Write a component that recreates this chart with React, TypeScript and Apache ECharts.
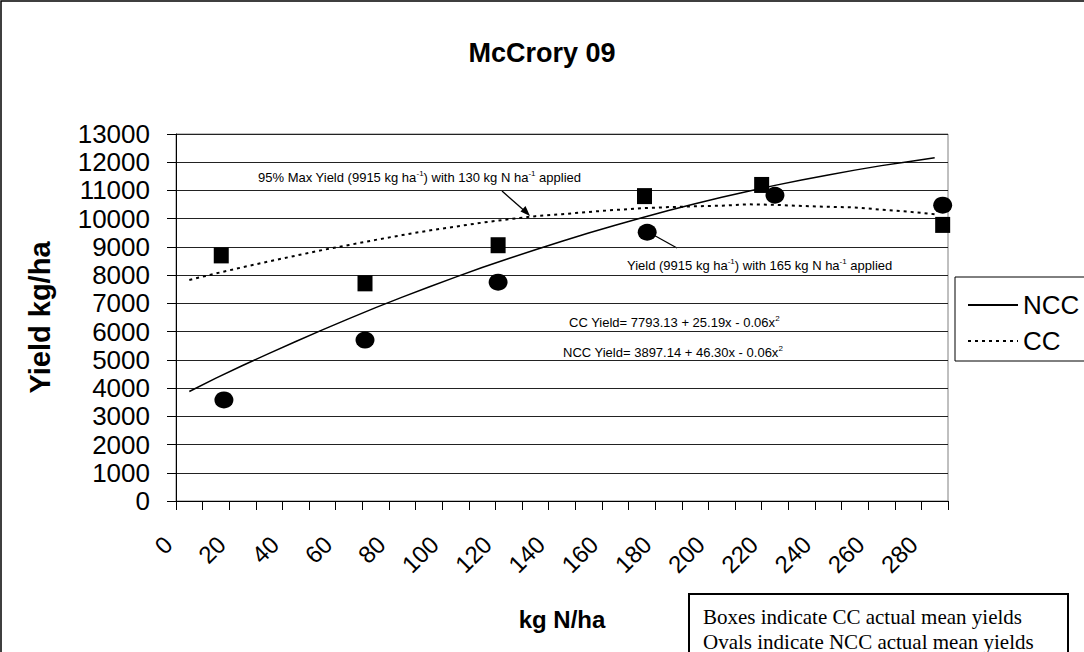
import React, { useEffect, useRef } from 'react';
import * as echarts from 'echarts';

// N rates (kg N/ha) used as categories of the fitted curves
const nRates = ['0','10','20','30','40','50','60','70','80','90','100','110','120','130','140','150','160','170','180','190','200','210','220','230','240','250','260','270','280'];
// Fitted curve values (kg/ha)
const nccFit = [3880, 4350, 4800, 5230, 5650, 6060, 6460, 6850, 7220, 7580, 7930, 8270, 8590, 8900, 9200, 9490, 9770, 10030, 10290, 10530, 10760, 10970, 11180, 11370, 11550, 11720, 11880, 12020, 12160];
const ccFit = [7830, 8060, 8280, 8490, 8690, 8890, 9070, 9250, 9420, 9580, 9720, 9860, 9980, 10090, 10160, 10240, 10310, 10370, 10410, 10440, 10460, 10510, 10490, 10450, 10420, 10400, 10320, 10250, 10160];
// Actual mean yields (boxes = CC, ovals = NCC)
const ccBoxN = [12, 66, 116, 171, 215, 283];
const ccBoxYield = [8700, 7710, 9060, 10800, 11195, 9780];
const nccOvalN = [13, 66, 116, 172, 220, 283];
const nccOvalYield = [3580, 5700, 7750, 9520, 10830, 10480];

const SANS = '"Liberation Sans", Arial, sans-serif';
const SERIF = '"Liberation Serif", "Times New Roman", serif';

export default function App() {
  const ref = useRef<HTMLDivElement>(null);
  useEffect(() => {
    if (!ref.current) return;
    const chart = echarts.init(ref.current, undefined, { renderer: 'svg' });
    const supRich = { s: { fontSize: 8, lineHeight: 8, verticalAlign: 'top', fontFamily: SANS, fill: '#000', color: '#000' } };
    chart.setOption({
      animation: false,
      backgroundColor: '#fff',
      title: {
        text: 'McCrory 09',
        left: 'center',
        top: 34,
        textStyle: { fontFamily: SANS, fontSize: 27, fontWeight: 'bold', color: '#000' },
      },
      grid: { left: 176, right: 136, top: 134, bottom: 151, show: true, borderColor: '#808080', borderWidth: 1, backgroundColor: 'transparent' },
      legend: {
        data: ['NCC', 'CC'],
        orient: 'vertical',
        left: 962,
        top: 287,
        itemWidth: 50,
        itemHeight: 14,
        itemGap: 10,
        itemStyle: { opacity: 0 },
        textStyle: { fontFamily: SANS, fontSize: 26, color: '#000' },
      },
      xAxis: [
        {
          type: 'category',
          data: nRates,
          boundaryGap: true,
          axisLine: { onZero: false, lineStyle: { color: '#000', width: 1 } },
          axisTick: { show: true, interval: 0, length: 9, lineStyle: { color: '#000' } },
          axisLabel: { interval: 1, rotate: 45, fontFamily: SANS, fontSize: 24, color: '#000', margin: 18, padding: [0, 30, 0, 0] },
          splitLine: { show: false },
          name: 'kg N/ha',
          nameLocation: 'middle',
          nameGap: 106,
          nameTextStyle: { fontFamily: SANS, fontSize: 24, fontWeight: 'bold', color: '#000' },
        },
        { type: 'value', min: -5, max: 285, show: false },
      ],
      yAxis: {
        type: 'value',
        min: 0,
        max: 13000,
        interval: 1000,
        axisLine: { show: true, onZero: false, lineStyle: { color: '#000', width: 1 } },
        axisTick: { show: true, length: 9, lineStyle: { color: '#000' } },
        axisLabel: { fontFamily: SANS, fontSize: 26, color: '#000', margin: 26, formatter: (v: number) => String(v) },
        splitLine: { show: true, lineStyle: { color: '#222', width: 1 } },
        name: 'Yield kg/ha',
        nameLocation: 'middle',
        nameGap: 122,
        nameTextStyle: { fontFamily: SANS, fontSize: 29, fontWeight: 'bold', color: '#000' },
      },
      series: [
        {
          name: 'NCC', type: 'line', data: nccFit, xAxisIndex: 0, symbol: 'none', showSymbol: false,
          lineStyle: { color: '#000', width: 1.5, type: 'solid' }, itemStyle: { color: '#000' }, z: 3,
        },
        {
          name: 'CC', type: 'line', data: ccFit, xAxisIndex: 0, symbol: 'none', showSymbol: false,
          lineStyle: { color: '#000', width: 2, type: [3, 4] }, itemStyle: { color: '#000' }, z: 3,
        },
        {
          name: 'CC mean', type: 'scatter', xAxisIndex: 1, symbol: 'rect', symbolSize: [15, 16],
          itemStyle: { color: '#000', opacity: 1 }, z: 5,
          data: ccBoxN.map((n, i) => [n, ccBoxYield[i]]),
        },
        {
          name: 'NCC mean', type: 'scatter', xAxisIndex: 1, symbol: 'circle', symbolSize: [19, 17],
          itemStyle: { color: '#000', opacity: 1 }, z: 5,
          data: nccOvalN.map((n, i) => [n, nccOvalYield[i]]),
        },
      ],
      graphic: [
        { type: 'rect', shape: { x: 1, y: 1, width: 1100, height: 680 }, style: { fill: 'none', stroke: '#000', lineWidth: 1.5 }, silent: true, z: -1 },
        { type: 'rect', shape: { x: 955, y: 277, width: 150, height: 84 }, style: { fill: 'none', stroke: '#000', lineWidth: 1 }, silent: true },
        {
          type: 'text', x: 258, y: 169,
          style: { text: '95% Max Yield (9915 kg ha{s|-1}) with 130 kg N ha{s|-1} applied', fontFamily: SANS, fontSize: 13, fill: '#000', lineHeight: 16, rich: supRich },
        },
        { type: 'line', shape: { x1: 502, y1: 191, x2: 527, y2: 213 }, style: { stroke: '#000', lineWidth: 1.3 } },
        { type: 'polygon', shape: { points: [[530, 216], [520.5, 211.5], [525.5, 206]] }, style: { fill: '#000' } },
        { type: 'line', shape: { x1: 650, y1: 233, x2: 677, y2: 248 }, style: { stroke: '#000', lineWidth: 1.3 } },
        {
          type: 'text', x: 627, y: 257,
          style: { text: 'Yield (9915 kg ha{s|-1}) with 165 kg N ha{s|-1} applied', fontFamily: SANS, fontSize: 13, fill: '#000', lineHeight: 16, rich: supRich },
        },
        {
          type: 'text', x: 569, y: 314,
          style: { text: 'CC Yield= 7793.13 + 25.19x - 0.06x{s|2}', fontFamily: SANS, fontSize: 13, fill: '#000', lineHeight: 16, rich: supRich },
        },
        {
          type: 'text', x: 563, y: 344,
          style: { text: 'NCC Yield= 3897.14 + 46.30x - 0.06x{s|2}', fontFamily: SANS, fontSize: 13, fill: '#000', lineHeight: 16, rich: supRich },
        },
        { type: 'rect', shape: { x: 689, y: 594, width: 379, height: 80 }, style: { fill: '#fff', stroke: '#000', lineWidth: 2 } },
        {
          type: 'text', x: 703, y: 604,
          style: { text: 'Boxes indicate CC actual mean yields\nOvals indicate NCC actual mean yields', fontFamily: SERIF, fontSize: 21, lineHeight: 25, fill: '#000' },
        },
      ],
    });
    return () => chart.dispose();
  }, []);
  return <div ref={ref} style={{ position: 'absolute', left: 0, top: 0, width: 1084, height: 652 }} />;
}
